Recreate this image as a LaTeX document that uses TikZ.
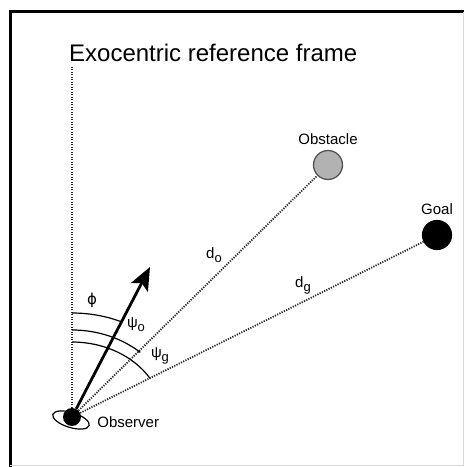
\documentclass[tikz,border=0pt]{standalone}
\usepackage{fontspec}
\setmainfont{Liberation Sans}
\newfontfamily\greekfont{DejaVu Sans}
\newcommand{\sub}[1]{\raisebox{-4pt}{\fontsize{13}{14}\selectfont #1}}
\usetikzlibrary{positioning,arrows.meta}

\begin{document}
\begin{tikzpicture}[
  x=1pt, y=1pt,
  font=\fontsize{15}{18}\selectfont,
  target/.style={circle, line width=1.2pt, minimum size=29pt, inner sep=0pt},
  tag/.style={inner sep=2pt},
  sight/.style={line width=1.8pt, dash pattern=on 1.2pt off 1.3pt, black!85},
  angarc/.style={line width=1.2pt},
  heading/.style={-{Stealth[length=23pt,width=19pt,inset=5pt]}, line width=2.8pt},
]
\useasboundingbox (0,0) rectangle (464,467);
% frame
\draw[line width=3pt] (10,0) -- (10,455) -- (464,455);
\draw[black!15, line width=1pt] (10,1) -- (463,1) -- (463,455);

\node[font=\fontsize{24}{28}\selectfont, anchor=base west, inner sep=0pt] (title) at (69,405) {Exocentric reference frame};

% observer, targets
\draw[line width=1.2pt, rotate around={-17:(71,47)}] (71,47) ellipse [x radius=19, y radius=7.5];
\node[circle, fill=black, inner sep=0pt, minimum size=18pt] (observer) at (72,50) {};
\node[target, draw=black!70, fill=black!30] (obstacle) at (328,302) {};
\node[target, draw=black, fill=black] (goal) at (437,232) {};
\coordinate (zenith) at (72,401);
\coordinate (tip) at (150,200);

\node[tag, above=3pt of obstacle] (obstaclelbl) {Obstacle};
\node[tag, above=3pt of goal] (goallbl) {Goal};
\node[tag, right=14pt of observer, yshift=-5pt] (observerlbl) {Observer};

% lines of sight
\draw[sight] (observer) -- (zenith);
\draw[sight] (observer) -- (obstacle);
\draw[sight] (observer) -- (goal);
\draw[heading] (observer) -- (tip);

% angles
\draw[angarc] (observer.center) ++(0,104) arc[start angle=90, end angle=66, x radius=123, y radius=104];
\draw[angarc] (observer.center) ++(0,87) arc[start angle=90, end angle=48, x radius=102, y radius=87];
\draw[angarc] (observer.center) ++(0,75) arc[start angle=90, end angle=31, x radius=91, y radius=75];

\node[tag] (phi) at (92,167) {\greekfont ϕ};
\node[tag] (psio) at (136,142) {ψ\sub{o}};
\node[tag] (psig) at (160,111) {ψ\sub{g}};
\node[tag] (dobs) at (214,212) {d\sub{o}};
\node[tag] (dgoal) at (303,182) {d\sub{g}};
\end{tikzpicture}
\end{document}
